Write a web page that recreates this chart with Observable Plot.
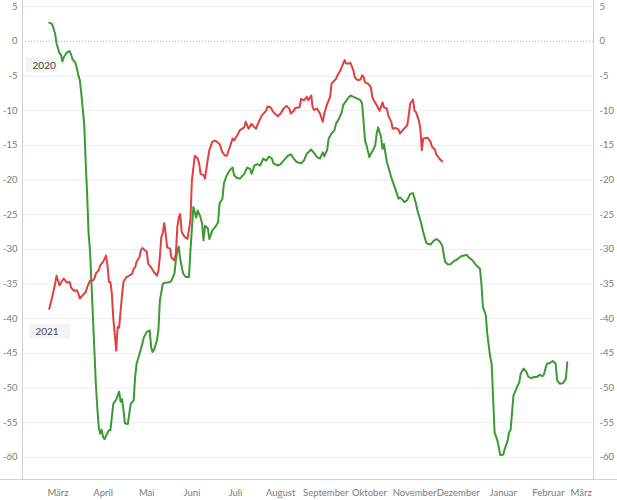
<!DOCTYPE html>
<html><head><meta charset="utf-8">
<script src="https://cdn.jsdelivr.net/npm/d3@7"></script>
<script src="https://cdn.jsdelivr.net/npm/@observablehq/plot@0.6"></script>
<style>
html,body{margin:0;padding:0;background:#fff;}
#chart{width:617px;height:500px;}
</style></head><body><div id="chart"></div>
<script>
// Day numbers count from 1 February of the series year (common axis).
const days2020 = [23,25,27,28,30,31,32,33,35,37,38,39,41,42,43,44,45,47,48,49,50,51,53,54,55,56,57,58,59,60,61,62,64,65,66,67,69,71,72,73,74,75,77,78,79,81,82,83,85,87,88,90,92,93,94,95,97,98,99,101,102,104,106,107,109,110,111,112,113,115,117,119,120,122,124,125,127,128,129,130,132,133,135,137,139,140,142,143,145,147,149,150,152,154,157,159,161,162,164,166,168,170,172,174,176,177,180,182,184,187,189,191,193,196,198,200,203,205,207,209,211,212,214,215,217,219,220,222,224,225,228,230,232,235,237,238,240,241,243,244,246,247,248,249,251,252,253,255,258,260,262,263,264,266,267,269,271,273,275,276,278,280,282,283,285,287,289,291,293,294,295,297,299,301,303,306,308,310,311,314,316,319,320,321,323,324,326,327,328,329,331,333,335,336,338,339,340,342,343,345,346,347,349,351,352,354,356,358,360,362,363,364,365,367,369,371,372,374,376,378,379];
const values2020 = [2.7,2.5,1.1,-0.3,-1.7,-1.9,-2.9,-2.3,-1.6,-1.4,-1.9,-2.6,-3.1,-3.9,-4.9,-5.6,-7.5,-11.9,-17.2,-22,-27.7,-30.2,-39.8,-44.6,-49.4,-52.8,-55.7,-56.6,-56,-57.1,-57.4,-56.9,-56.1,-56.1,-54.2,-52.3,-51.7,-50.5,-52,-51.6,-53.2,-55.1,-55.2,-53.7,-52.3,-51.8,-48.4,-46.5,-45.1,-43.6,-42.7,-41.9,-41.7,-44.1,-44.8,-44.5,-43.1,-41.7,-37.4,-35,-34.8,-34.8,-34.7,-34.5,-33.5,-31.6,-30.2,-29.6,-31.4,-33.5,-34,-34,-30.2,-23.9,-25.4,-24.4,-25.4,-26.3,-28.7,-26.6,-27,-28.5,-27.3,-26.8,-26.1,-23.4,-22.7,-20.5,-19.3,-18.6,-18.2,-19.3,-19.7,-19.8,-19.1,-18.2,-18.4,-19.1,-17.9,-17.7,-17.9,-16.9,-17.2,-16.6,-16.9,-17.6,-17.9,-17.7,-17.2,-16.5,-16.3,-16.9,-17.4,-17.6,-17.2,-16.2,-15.6,-16.1,-16.7,-16.9,-16,-16.6,-15.6,-14,-13.3,-12.8,-11.9,-11.2,-10.2,-9.2,-8.3,-7.8,-8,-8.3,-8.5,-9,-14.3,-15,-16.7,-16.2,-15.5,-15,-13.3,-12.4,-13.8,-15.5,-14.8,-17.4,-19.6,-20.8,-22,-22.7,-22.5,-22.9,-23.2,-22.9,-22,-21.9,-23.4,-24.4,-25.8,-27.5,-29,-29.2,-29.3,-28.8,-28.5,-28.8,-29.4,-30.6,-31.8,-32.2,-32.1,-31.7,-31.5,-31,-30.9,-30.8,-31.1,-31.6,-32.2,-32.8,-35,-38.3,-39.5,-42.2,-45.5,-46.5,-51.3,-56.4,-57.6,-59.7,-59.6,-58.8,-57.6,-56.4,-56.1,-51.1,-50.6,-49.6,-49.2,-47.9,-47.2,-47.7,-48.3,-48.6,-48.4,-48.4,-48.1,-48.3,-48,-47.2,-46.5,-46.4,-46.1,-46.5,-48.9,-49.4,-49.3,-48.7,-46.3];

const days2021 = [23,25,27,28,30,32,33,35,37,38,40,42,43,44,46,48,49,51,53,54,55,57,58,60,62,63,64,65,66,67,68,69,70,71,73,74,76,78,80,81,82,83,85,86,87,89,90,91,93,95,97,98,99,100,101,102,103,104,106,107,109,110,111,112,113,114,116,118,120,121,123,125,126,127,129,130,132,133,135,137,140,142,144,145,147,149,150,152,154,157,158,160,162,164,165,167,169,172,173,175,177,180,182,184,186,188,189,191,192,195,196,198,200,201,203,204,205,207,209,211,212,214,216,217,220,221,223,224,226,227,229,230,232,233,235,237,238,239,240,242,244,245,246,248,250,252,253,255,256,258,259,261,263,264,266,269,270,271,273,274,275,277,278,279,280,283,285,286,288,289,291,293];
const values2021 = [-38.6,-36.9,-35,-33.8,-35.2,-34.5,-34.2,-34.8,-34.7,-35.5,-36,-35.9,-36.4,-37.1,-36.6,-36.2,-35.5,-34.5,-34.5,-34.2,-33.5,-33,-32.3,-31.8,-30.9,-32.3,-34.7,-34.7,-36.4,-40,-42.2,-44.6,-41.2,-41.3,-36.6,-34.7,-34,-33.8,-33.5,-32.8,-32.6,-31.8,-31.1,-30.1,-29.8,-30.2,-30.3,-32.1,-32.6,-33.3,-33.8,-33.1,-31.1,-28.2,-27.7,-26.2,-27.7,-29.7,-29.9,-31.2,-31.6,-30.6,-26.8,-25.4,-24.9,-27.5,-28.2,-28.5,-25.8,-20.1,-16.5,-16.9,-17.6,-19.1,-19.3,-19.8,-16.9,-15.7,-14.5,-14.3,-14.8,-16,-16.5,-16.5,-15.3,-14,-14.3,-13.6,-12.8,-12.4,-11.6,-12.6,-11.9,-12.4,-12.6,-11.6,-10.7,-10,-9.4,-9.5,-10.2,-10.8,-10.4,-9.7,-9.3,-9.7,-10.4,-10,-9.6,-9.5,-8.3,-8.5,-8,-8.5,-7.8,-9.5,-9.9,-9.7,-10.4,-11.6,-10.4,-9,-8,-6.1,-5.4,-4.9,-4.2,-3.7,-2.7,-3.2,-3.2,-3.1,-4.2,-5.2,-5.6,-5.5,-4.9,-5.1,-5.9,-6.1,-6.6,-8,-8.5,-9.2,-10,-8.8,-9.5,-9.7,-10.7,-11.6,-12.6,-12.5,-12.7,-13.3,-12.8,-12.1,-10.7,-9,-8.4,-10,-10.2,-11.4,-12.6,-15.7,-14,-13.9,-14.5,-15.2,-15.6,-16.3,-16.9,-17.3];

const seriesNames = ["2020", "2021"];
const seriesColors = ["#3b9a33", "#e0403f"];

const monthTickDays = [29,60,90,121,151,182,213,243,274,304,335,366,394];
const monthNames = ["März","April","Mai","Juni","Juli","August","September","Oktober","November","Dezember","Januar","Februar","März"];
const yTicks = [5,0,-5,-10,-15,-20,-25,-30,-35,-40,-45,-50,-55,-60];
const yDomain = [-63.2, 5.9];
const xDomainDays = [4.6, 397];

const labelDays = [11.5, 13.5];
const labelValues = [-3.45, -41.85];

const base = Date.UTC(2020, 1, 1);
const dayToDate = d => new Date(base + d * 864e5);

const data = [
  ...days2020.map((d, i) => ({series: seriesNames[0], date: dayToDate(d), value: values2020[i]})),
  ...days2021.map((d, i) => ({series: seriesNames[1], date: dayToDate(d), value: values2021[i]}))
];
const labels = seriesNames.map((s, i) => ({series: s, date: dayToDate(labelDays[i]), value: labelValues[i]}));

const monthTicks = monthTickDays.map(dayToDate);
const nameByTime = new Map(monthTicks.map((t, i) => [t.getTime(), monthNames[i]]));
const fmtMonth = d => nameByTime.get(d.getTime());
const xStart = dayToDate(xDomainDays[0]);
const xEnd = dayToDate(xDomainDays[1]);

const boxW = [31, 41];
const labelMarks = labels.map((l, i) => Plot.rect([l], {
  x1: "date", x2: "date", y1: "value", y2: "value",
  insetLeft: -6, insetRight: -(boxW[i] - 6), insetTop: -7.5, insetBottom: -7.5,
  fill: "#f4f4f4"
}));

const chart = Plot.plot({
  width: 617,
  height: 500,
  marginLeft: 22,
  marginRight: 24,
  marginTop: 0,
  marginBottom: 21,
  style: {fontFamily: "Lato, sans-serif", fontSize: "9.5px", color: "#7a7a7a", background: "#fff"},
  x: {type: "utc", domain: [xStart, xEnd], label: null},
  y: {domain: yDomain, label: null},
  color: {domain: seriesNames, range: seriesColors},
  marks: [
    Plot.ruleY(yTicks.filter(t => t !== 0), {stroke: "#ececec", strokeWidth: 1}),
    Plot.ruleY([0], {stroke: "#b5b5b5", strokeDasharray: "1,2"}),
    Plot.ruleX([xStart, xEnd], {stroke: "#d2d2d2"}),
    Plot.ruleY([yDomain[0]], {stroke: "#d2d2d2", insetLeft: -22, insetRight: -24}),
    ...labelMarks,
    Plot.text(labels, {x: "date", y: "value", text: "series", textAnchor: "start", fill: "#444", fontSize: 10}),
    Plot.line(data, {x: "date", y: "value", z: "series", stroke: "series", strokeWidth: 2}),
    Plot.axisY(yTicks, {anchor: "left", tickSize: 0, tickPadding: 5, tickFormat: d => String(d), label: null}),
    Plot.axisY(yTicks, {anchor: "right", tickSize: 0, tickPadding: 6, tickFormat: d => String(d), label: null}),
    Plot.axisX(monthTicks.slice(0, -1), {tickSize: 0, tickPadding: 10, tickFormat: fmtMonth, label: null}),
    Plot.axisX(monthTicks.slice(-1), {tickSize: 0, tickPadding: 10, tickFormat: fmtMonth, label: null, dx: -8})
  ]
});
document.getElementById("chart").appendChild(chart);
</script>
</body></html>
